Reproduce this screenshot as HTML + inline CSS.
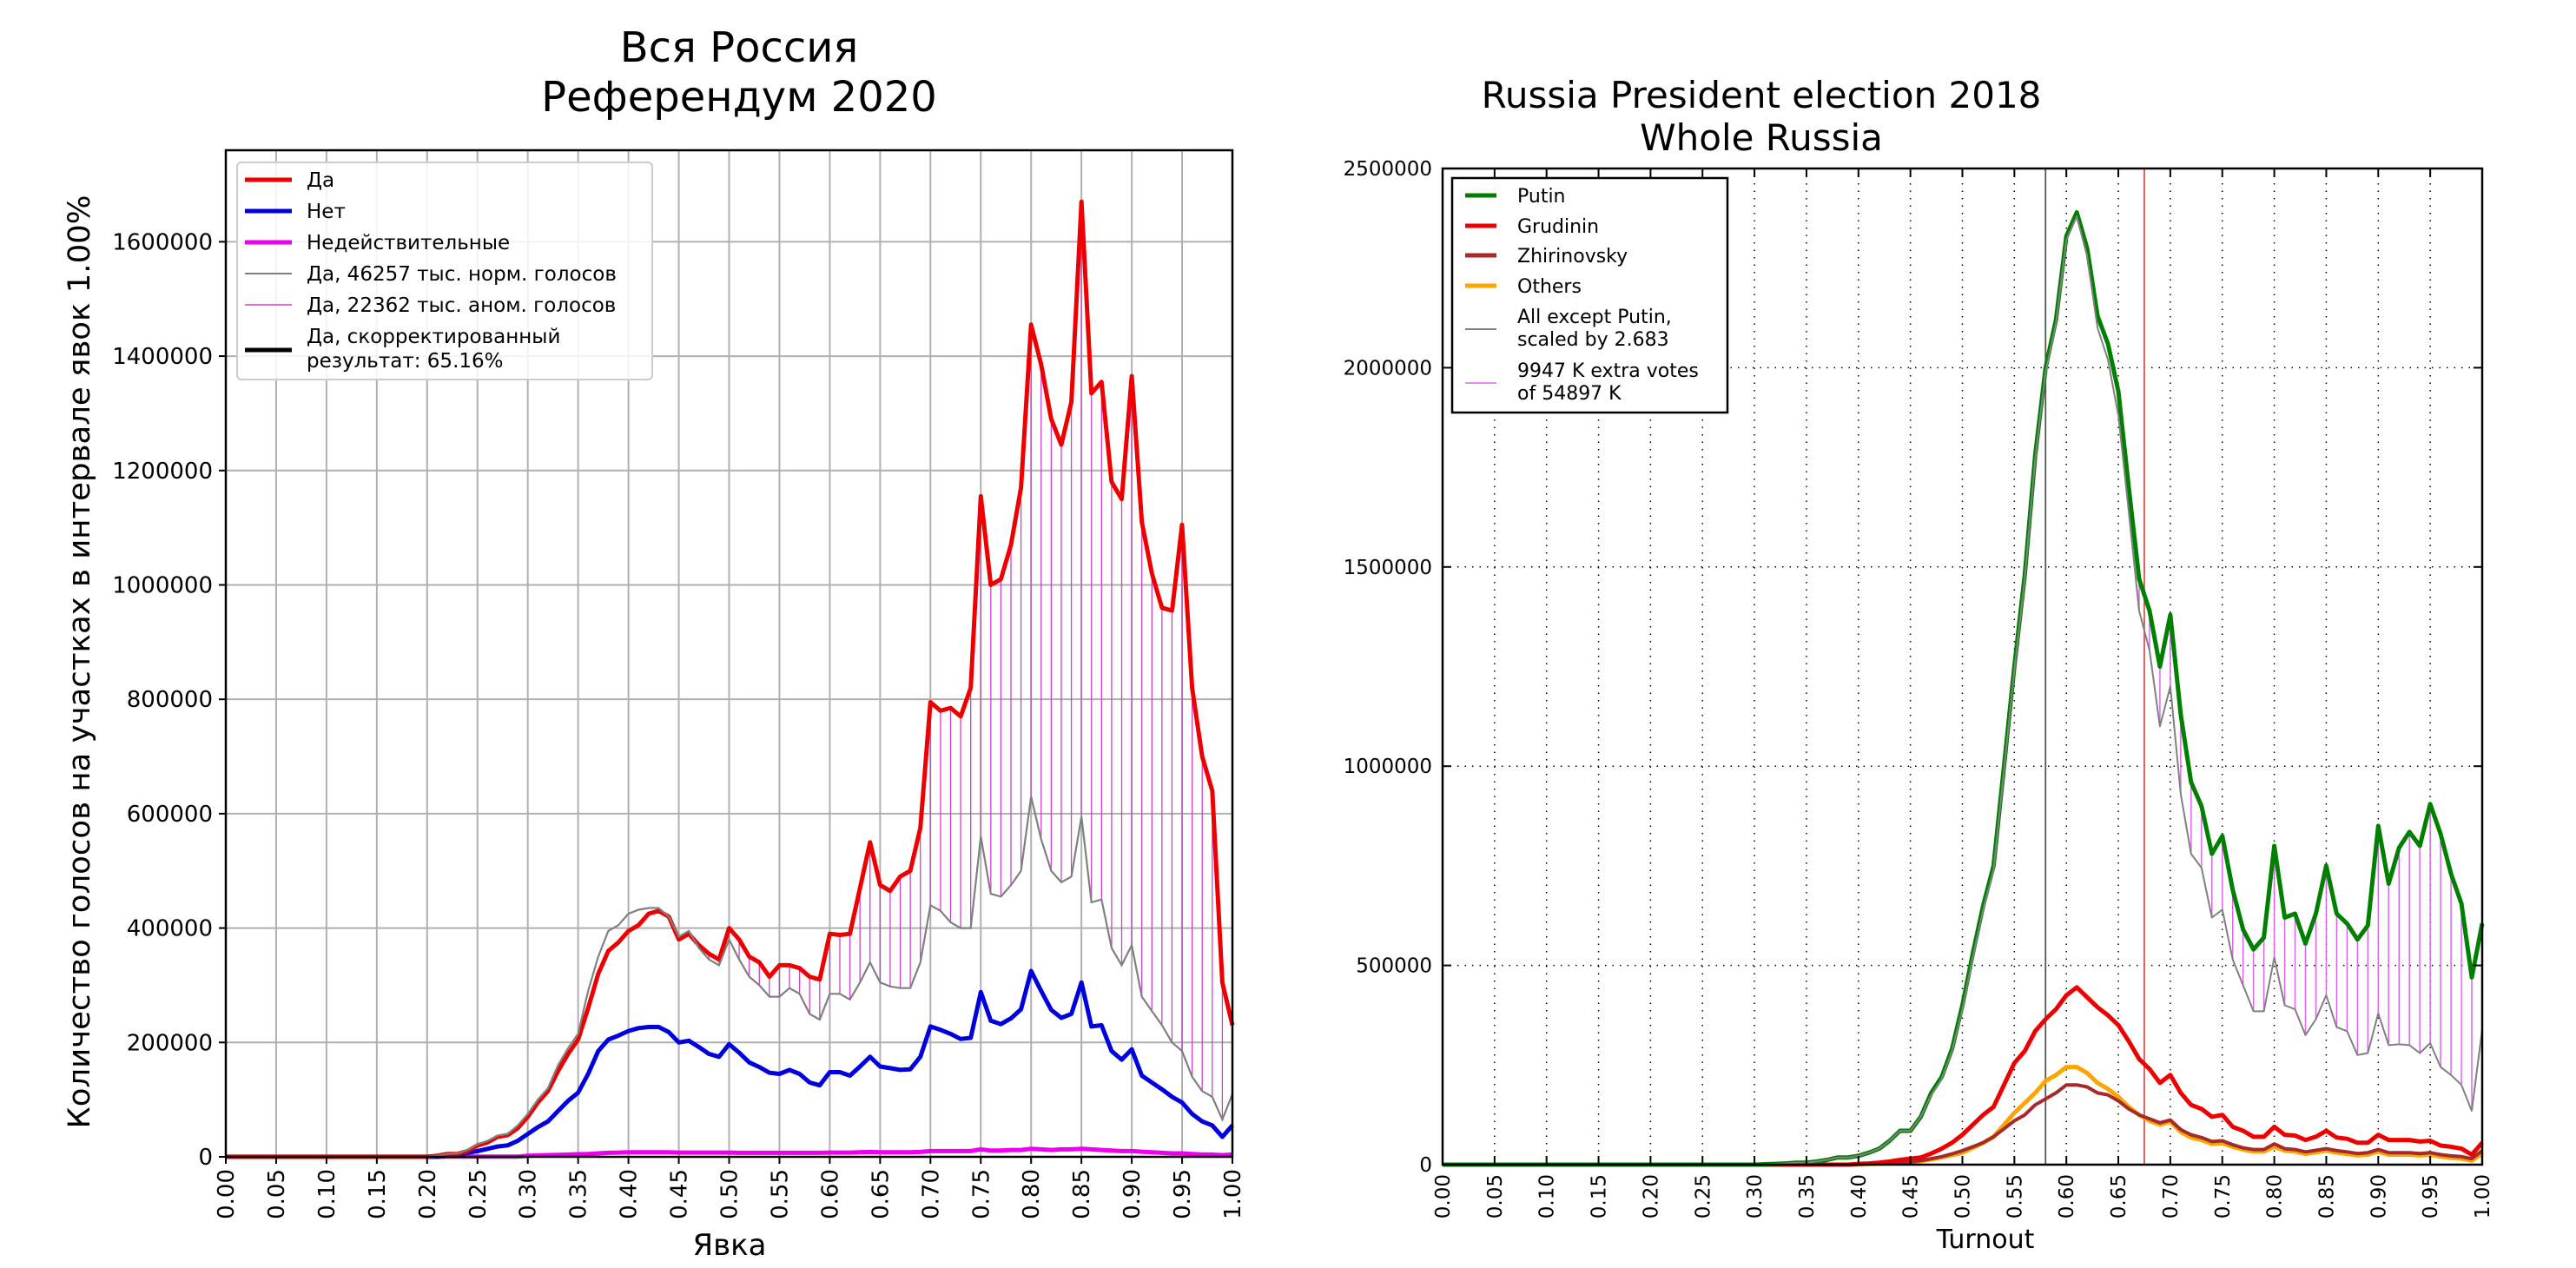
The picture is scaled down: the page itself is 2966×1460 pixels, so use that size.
<!DOCTYPE html>
<html><head><meta charset="utf-8"><style>
html,body{margin:0;padding:0;background:#fff;}
svg{display:block;font-family:"DejaVu Sans","Liberation Sans",sans-serif;}
</style></head><body>
<svg id="fig" xmlns="http://www.w3.org/2000/svg" width="2966" height="1460" viewBox="0 0 2966 1460">
<rect x="0" y="0" width="2966" height="1460" fill="#fff"/>
<g id="left"></g>
<g id="right"></g>
</svg>
<script>
// ===== Left chart data (turnout bins 0.00..1.00 step 0.01) =====
const leftYes = [0,0,0,0,0,0,0,0,0,0,0,0,0,0,0,0,0,0,0,0,0,
2000,5000,5000,10000,20000,25000,35000,38000,50000,
70000,95000,115000,150000,180000,205000,260000,320000,360000,375000,
395000,405000,425000,430000,420000,380000,390000,370000,355000,345000,
400000,380000,350000,340000,315000,335000,335000,330000,315000,310000,
390000,388000,390000,470000,550000,475000,465000,490000,500000,575000,
795000,780000,785000,770000,820000,1155000,1000000,1010000,1070000,1170000,
1455000,1385000,1290000,1245000,1320000,1670000,1335000,1355000,1180000,1150000,
1365000,1110000,1020000,960000,955000,1105000,820000,700000,640000,305000,
230000];
const leftNorm = [0,0,0,0,0,0,0,0,0,0,0,0,0,0,0,0,0,0,0,0,0,
2000,5000,6000,12000,22000,28000,37000,40000,55000,
75000,100000,120000,160000,190000,215000,290000,350000,395000,405000,
425000,432000,435000,435000,420000,385000,395000,365000,345000,335000,
380000,345000,315000,300000,280000,280000,295000,285000,250000,240000,
285000,285000,275000,305000,340000,305000,298000,295000,295000,340000,
440000,430000,410000,400000,400000,560000,460000,455000,475000,500000,
630000,555000,500000,480000,490000,595000,445000,450000,365000,335000,
370000,280000,255000,230000,200000,185000,140000,115000,105000,65000,
110000];
const leftNo = [0,0,0,0,0,0,0,0,0,0,0,0,0,0,0,0,0,0,0,0,0,0,
2000,4000,7000,10000,14000,18000,20000,28000,
40000,52000,62000,80000,98000,112000,145000,185000,205000,212000,
220000,225000,227000,227000,218000,200000,203000,192000,180000,175000,
197000,182000,165000,157000,147000,145000,152000,145000,130000,125000,
148000,148000,142000,158000,175000,158000,155000,152000,153000,175000,
228000,222000,215000,206000,208000,288000,238000,232000,242000,258000,
325000,290000,257000,243000,250000,305000,228000,230000,185000,170000,
188000,142000,130000,118000,105000,95000,75000,62000,55000,35000,
55000];
const leftInvalid = [500,500,500,500,500,500,500,500,500,500,500,500,500,500,500,500,500,500,500,500,500,500,500,500,500,500,500,500,500,500,
2000,2500,3000,3500,4000,4500,5000,6000,7000,7500,
8000,8000,8000,8000,8000,7500,7500,7500,7500,7500,
7500,7000,7000,7000,7000,7000,7000,7000,7000,7000,
7500,7500,7500,8000,8500,8000,8000,8000,8000,8500,
10000,10000,10000,10000,10000,13000,11000,11000,12000,12000,
14000,13000,12000,13000,13000,14000,13000,12000,11000,10000,
10000,9000,8000,7000,6000,6000,5000,4000,4000,3000,
4000];
const leftYTicks = [0,200000,400000,600000,800000,1000000,1200000,1400000,1600000];
const xTickLabels = ["0.00","0.05","0.10","0.15","0.20","0.25","0.30","0.35","0.40","0.45","0.50","0.55","0.60","0.65","0.70","0.75","0.80","0.85","0.90","0.95","1.00"];

// ===== Right chart data =====
const rightPutin = [0,0,0,0,0,0,0,0,0,0,0,0,0,0,0,0,0,0,0,0,0,0,0,0,0,0,0,0,0,0,0,
1000,2000,3000,5000,5000,8000,12000,18000,18000,
22000,30000,40000,60000,85000,85000,120000,180000,220000,290000,
400000,530000,650000,750000,1000000,1250000,1480000,1780000,2000000,2120000,
2330000,2390000,2300000,2130000,2060000,1940000,1700000,1470000,1390000,1250000,
1380000,1130000,960000,900000,780000,825000,690000,590000,540000,570000,
800000,620000,630000,555000,630000,750000,630000,605000,565000,600000,
850000,705000,795000,835000,800000,905000,830000,730000,655000,470000,
605000];
const rightScaled = [0,0,0,0,0,0,0,0,0,0,0,0,0,0,0,0,0,0,0,0,0,0,0,0,0,0,0,0,0,0,0,
1000,2000,3000,5000,5000,8000,12000,18000,18000,
22000,30000,40000,60000,85000,85000,120000,175000,215000,285000,
390000,520000,640000,740000,990000,1240000,1470000,1770000,1990000,2110000,
2320000,2380000,2280000,2100000,2020000,1880000,1640000,1390000,1290000,1100000,
1200000,930000,780000,745000,620000,640000,515000,450000,385000,385000,
520000,400000,390000,325000,365000,425000,345000,335000,275000,280000,
380000,300000,302000,300000,280000,305000,245000,225000,200000,135000,
340000];
const rightGrudinin = [0,0,0,0,0,0,0,0,0,0,0,0,0,0,0,0,0,0,0,0,0,0,0,0,0,0,0,0,0,0,0,0,0,0,0,0,0,0,0,0,
2000,3000,5000,8000,12000,15000,18000,28000,40000,55000,
75000,100000,125000,145000,200000,255000,285000,335000,365000,390000,
425000,445000,420000,395000,375000,350000,310000,265000,240000,205000,
225000,180000,150000,140000,120000,125000,95000,85000,70000,70000,
95000,75000,73000,62000,70000,85000,68000,65000,55000,55000,
75000,62000,62000,62000,58000,60000,48000,45000,40000,25000,
55000];
const rightZhirinovsky = [0,0,0,0,0,0,0,0,0,0,0,0,0,0,0,0,0,0,0,0,0,0,0,0,0,0,0,0,0,0,0,0,0,0,0,0,0,0,0,0,
1000,2000,3000,4000,5000,7000,10000,15000,20000,27000,
35000,45000,55000,70000,90000,110000,125000,150000,165000,180000,
200000,200000,195000,180000,175000,160000,140000,125000,115000,105000,
112000,88000,75000,68000,58000,60000,50000,42000,38000,38000,
52000,40000,38000,32000,36000,40000,35000,32000,28000,30000,
38000,30000,30000,30000,28000,30000,25000,22000,20000,15000,
35000];
const rightOthers = [0,0,0,0,0,0,0,0,0,0,0,0,0,0,0,0,0,0,0,0,0,0,0,0,0,0,0,0,0,0,0,0,0,0,0,0,0,0,0,0,
1000,2000,2500,3000,4000,6000,9000,13000,18000,24000,
30000,42000,55000,70000,100000,130000,155000,180000,210000,225000,
245000,245000,230000,205000,190000,170000,145000,125000,110000,100000,
108000,82000,68000,62000,52000,54000,45000,38000,33000,33000,
45000,35000,33000,27000,31000,35000,30000,27000,23000,25000,
33000,25000,25000,25000,23000,25000,20000,17000,15000,10000,
28000];
const rightYTicks = [0,500000,1000000,1500000,2000000,2500000];
const rightMarkers = [0.58, 0.675];

const NS = "http://www.w3.org/2000/svg";
function el(parent, tag, attrs, text){
  const e = document.createElementNS(NS, tag);
  for (const k in attrs) e.setAttribute(k, attrs[k]);
  if (text !== undefined) e.textContent = text;
  parent.appendChild(e);
  return e;
}
function pathD(arr, fx, fy){
  return arr.map((v,i)=>(i?'L':'M')+fx(i/100).toFixed(1)+','+fy(v).toFixed(1)).join(' ');
}

// ===== LEFT CHART =====
(function(){
  const g = document.getElementById('left');
  const X0=260, X1=1419, Y0=1332, Y1=173, YMAX=1760000;
  const fx = t => X0 + t*(X1-X0);
  const fy = v => Y0 - v/YMAX*(Y0-Y1);
  xTickLabels.forEach((lab,i)=>{
    const x = fx(i*0.05);
    const l = el(g,'line',{x1:x,x2:x,y1:Y1,y2:Y0,stroke:'#b0b0b0','stroke-width':2});
    
    
  });
  leftYTicks.forEach(v=>{
    const y = fy(v);
    const l = el(g,'line',{x1:X0,x2:X1,y1:y,y2:y,stroke:'#b0b0b0','stroke-width':2});
    
    
  });
  leftYes.forEach((v,i)=>{
    if (v - leftNorm[i] > 5000){
      const x = fx(i/100);
      const h = el(g,'line',{x1:x,x2:x,y1:fy(v),y2:fy(leftNorm[i]),stroke:'#d040d0','stroke-width':1.3});
      
      
    }
  });
  const s1 = el(g,'path',{d:pathD(leftInvalid,fx,fy),fill:'none',stroke:'#ee00ee','stroke-width':5});
  
  
  const s2 = el(g,'path',{d:pathD(leftNo,fx,fy),fill:'none',stroke:'#0000dd','stroke-width':5,'stroke-linejoin':'round'});
  
  
  const s3 = el(g,'path',{d:pathD(leftYes,fx,fy),fill:'none',stroke:'#ee0000','stroke-width':5,'stroke-linejoin':'round'});
  
  
  const s4 = el(g,'path',{d:pathD(leftNorm,fx,fy),fill:'none',stroke:'#808080','stroke-width':2.2});
  
  
  const fr = el(g,'rect',{x:X0,y:Y1,width:X1-X0,height:Y0-Y1,fill:'none',stroke:'#000','stroke-width':2.5});
  
  
  xTickLabels.forEach((lab,i)=>{
    const x = fx(i*0.05);
    const t = el(g,'line',{x1:x,x2:x,y1:Y0,y2:Y0+8,stroke:'#000','stroke-width':2});
    
    
    const tx = el(g,'text',{x:0,y:0,transform:`translate(${x+9},${Y0+14}) rotate(-90)`,'text-anchor':'end','font-size':26,fill:'#000'},lab);
    
    
  });
  leftYTicks.forEach(v=>{
    const y = fy(v);
    const t = el(g,'line',{x1:X0-8,x2:X0,y1:y,y2:y,stroke:'#000','stroke-width':2});
    
    
    const tx = el(g,'text',{x:X0-15,y:y+9,'text-anchor':'end','font-size':26,fill:'#000'},String(v));
    
    
  });
  const yl = el(g,'text',{x:0,y:0,transform:'translate(103,762) rotate(-90)','text-anchor':'middle','font-size':35,fill:'#000',textLength:1075,lengthAdjust:'spacingAndGlyphs'},'Количество голосов на участках в интервале явок 1.00%');
  
  
  const xl = el(g,'text',{x:840,y:1445,'text-anchor':'middle','font-size':34,fill:'#000'},'Явка');
  
  
  const t1 = el(g,'text',{x:851,y:71,'text-anchor':'middle','font-size':48,fill:'#000'},'Вся Россия');
  
  
  const t2 = el(g,'text',{x:851,y:128,'text-anchor':'middle','font-size':48,fill:'#000'},'Референдум 2020');
  
  
  const lg = el(g,'g',{});
  
  
  el(lg,'rect',{x:273,y:187,width:478,height:250,rx:5,fill:'#fff','fill-opacity':0.85,stroke:'#cccccc','stroke-width':2});
  const items = [
    {c:'#ee0000',w:5,y:207,t:['Да']},
    {c:'#0000dd',w:5,y:243,t:['Нет']},
    {c:'#ee00ee',w:5,y:279,t:['Недействительные']},
    {c:'#808080',w:2,y:315,t:['Да, 46257 тыс. норм. голосов']},
    {c:'#d040d0',w:1.5,y:351,t:['Да, 22362 тыс. аном. голосов']},
    {c:'#000000',w:5,y:403,t:['Да, скорректированный','результат: 65.16%']}
  ];
  items.forEach(it=>{
    const e = el(lg,'line',{x1:282,x2:336,y1:it.y,y2:it.y,stroke:it.c,'stroke-width':it.w});
    
    
    if (it.t.length===1){
      const tx = el(lg,'text',{x:353,y:it.y+8,'font-size':23,fill:'#000'},it.t[0]);
      
      
    } else {
      const a = el(lg,'text',{x:353,y:395,'font-size':23,fill:'#000'},it.t[0]);
      
      
      const b = el(lg,'text',{x:353,y:423,'font-size':23,fill:'#000'},it.t[1]);
      
      
    }
  });
})();

// ===== RIGHT CHART =====
(function(){
  const g = document.getElementById('right');
  const X0=1661, X1=2858, Y0=1341, Y1=194, YMAX=2500000;
  const fx = t => X0 + t*(X1-X0);
  const fy = v => Y0 - v/YMAX*(Y0-Y1);
  xTickLabels.forEach((lab,i)=>{
    if (i===0||i===20) return;
    const x = fx(i*0.05);
    const l = el(g,'line',{x1:x,x2:x,y1:Y1,y2:Y0,stroke:'#000','stroke-width':1.5,'stroke-dasharray':'1.5,7'});
    
    
  });
  rightYTicks.forEach((v,i)=>{
    if (i===0||i===rightYTicks.length-1) return;
    const y = fy(v);
    const l = el(g,'line',{x1:X0,x2:X1,y1:y,y2:y,stroke:'#000','stroke-width':1.5,'stroke-dasharray':'1.5,7'});
    
    
  });
  const m1 = el(g,'line',{x1:fx(rightMarkers[0]),x2:fx(rightMarkers[0]),y1:Y1,y2:Y0,stroke:'#555','stroke-width':1.8});
  
  
  const m2 = el(g,'line',{x1:fx(rightMarkers[1]),x2:fx(rightMarkers[1]),y1:Y1,y2:Y0,stroke:'#e05050','stroke-width':1.8});
  
  
  rightPutin.forEach((v,i)=>{
    if (i>=66 && v - rightScaled[i] > 5000){
      const x = fx(i/100);
      const h = el(g,'line',{x1:x,x2:x,y1:fy(v),y2:fy(rightScaled[i]),stroke:'#dd66ee','stroke-width':1.5});
      
      
    }
  });
  const series = [
    [rightOthers,'#ffa500',5,'series-others'],
    [rightZhirinovsky,'#a52a2a',4,'series-zhirinovsky'],
    [rightGrudinin,'#ee0000',5,'series-grudinin'],
    [rightPutin,'#008000',5,'series-putin'],
    [rightScaled,'#808080',2,'series-scaled-others']
  ];
  series.forEach(s=>{
    const p = el(g,'path',{d:pathD(s[0],fx,fy),fill:'none',stroke:s[1],'stroke-width':s[2],'stroke-linejoin':'round'});
    
    
  });
  const fr = el(g,'rect',{x:X0,y:Y1,width:X1-X0,height:Y0-Y1,fill:'none',stroke:'#000','stroke-width':2.5});
  
  
  xTickLabels.forEach((lab,i)=>{
    const x = fx(i*0.05);
    const a = el(g,'line',{x1:x,x2:x,y1:Y0,y2:Y0-10,stroke:'#000','stroke-width':2});
    
    
    const b = el(g,'line',{x1:x,x2:x,y1:Y1,y2:Y1+10,stroke:'#000','stroke-width':2});
    
    
    const tx = el(g,'text',{x:0,y:0,transform:`translate(${x+8},${Y0+11}) rotate(-90)`,'text-anchor':'end','font-size':23,fill:'#000'},lab);
    
    
  });
  rightYTicks.forEach(v=>{
    const y = fy(v);
    const a = el(g,'line',{x1:X0,x2:X0+10,y1:y,y2:y,stroke:'#000','stroke-width':2});
    
    
    const b = el(g,'line',{x1:X1-10,x2:X1,y1:y,y2:y,stroke:'#000','stroke-width':2});
    
    
    const tx = el(g,'text',{x:X0-12,y:y+8,'text-anchor':'end','font-size':23,fill:'#000'},String(v));
    
    
  });
  const xl = el(g,'text',{x:2286,y:1437,'text-anchor':'middle','font-size':30,fill:'#000'},'Turnout');
  
  
  const t1 = el(g,'text',{x:2028,y:124,'text-anchor':'middle','font-size':42,fill:'#000'},'Russia President election 2018');
  
  
  const t2 = el(g,'text',{x:2028,y:173,'text-anchor':'middle','font-size':42,fill:'#000'},'Whole Russia');
  
  
  const lg = el(g,'g',{});
  
  
  el(lg,'rect',{x:1672,y:205,width:317,height:270,fill:'#fff',stroke:'#000','stroke-width':2.5});
  const items = [
    {c:'#008000',w:5,y:225,t:['Putin']},
    {c:'#ee0000',w:5,y:260,t:['Grudinin']},
    {c:'#a52a2a',w:5,y:294,t:['Zhirinovsky']},
    {c:'#ffa500',w:5,y:329,t:['Others']},
    {c:'#808080',w:2,y:379,t:['All except Putin,','scaled by 2.683'],ty:[372,398]},
    {c:'#dd66ee',w:1.5,y:441,t:['9947 K extra votes',' of 54897 K'],ty:[434,460]}
  ];
  items.forEach(it=>{
    const e = el(lg,'line',{x1:1687,x2:1723,y1:it.y,y2:it.y,stroke:it.c,'stroke-width':it.w});
    
    
    if (it.t.length===1){
      const tx = el(lg,'text',{x:1747,y:it.y+8,'font-size':22,fill:'#000'},it.t[0]);
      
      
    } else {
      it.t.forEach((s,k)=>{
        const tx = el(lg,'text',{x:1747,y:it.ty[k],'font-size':22,fill:'#000','xml:space':'preserve'},s);
        
        
      });
    }
  });
})();
</script>
</body></html>
